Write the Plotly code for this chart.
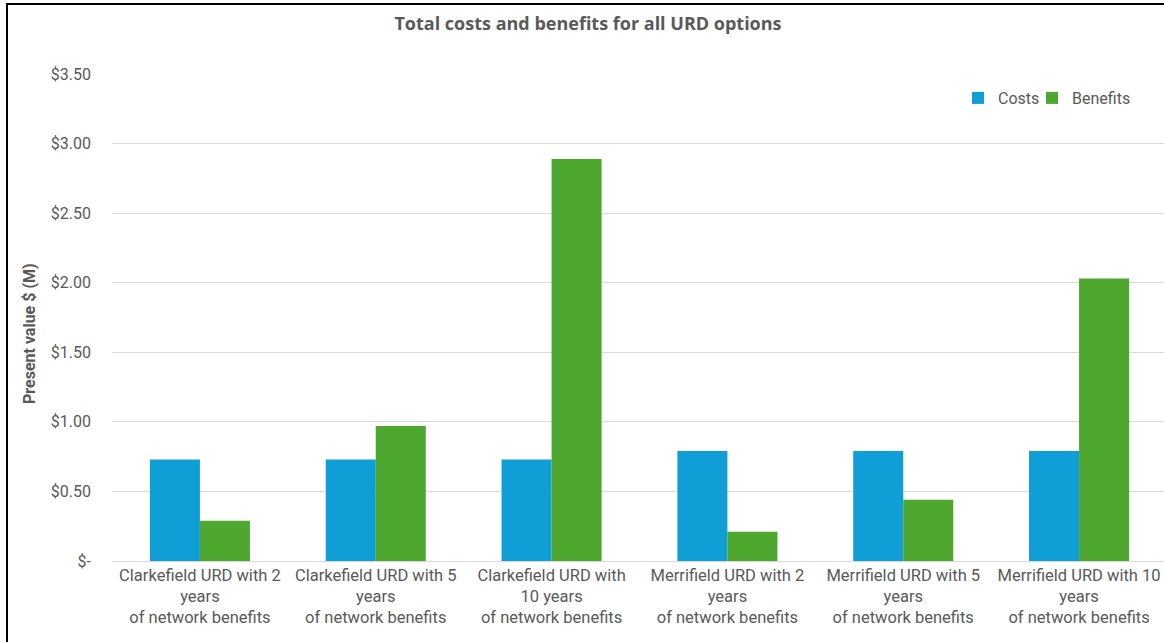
import plotly.graph_objects as go

# Options compared (category labels, three lines each)
options = [
    "Clarkefield URD with 2<br>years<br>of network benefits",
    "Clarkefield URD with 5<br>years<br>of network benefits",
    "Clarkefield URD with<br>10 years<br>of network benefits",
    "Merrifield URD with 2<br>years<br>of network benefits",
    "Merrifield URD with 5<br>years<br>of network benefits",
    "Merrifield URD with 10<br>years<br>of network benefits",
]

# Present values in $M
costs = [0.73, 0.73, 0.73, 0.79, 0.79, 0.79]
benefits = [0.29, 0.97, 2.89, 0.21, 0.44, 2.03]

# Y-axis ticks
y_tickvals = [0, 0.5, 1.0, 1.5, 2.0, 2.5, 3.0, 3.5]
y_ticktext = ["$-", "$0.50", "$1.00", "$1.50", "$2.00", "$2.50", "$3.00", "$3.50"]

W, H = 1164, 642
L, T, B = 112, 74, 81
plot_w = W - L
plot_h = H - T - B

FONT = "Roboto"
GREY = "#595959"

fig = go.Figure()
fig.add_trace(go.Bar(name="Costs", x=options, y=costs, marker_color="#0F9ED5",
                     marker_line_width=0, legend="legend"))
fig.add_trace(go.Bar(name="Benefits", x=options, y=benefits, marker_color="#4EA72E",
                     marker_line_width=0, legend="legend2"))


def px_x(px):
    return (px - L) / plot_w


def px_y(py):
    return (H - B - py) / plot_h


legend_style = dict(orientation="h", xanchor="left", y=px_y(98), yanchor="middle",
                    font=dict(family=FONT, size=16, color=GREY),
                    itemwidth=30, bgcolor="rgba(0,0,0,0)")

fig.update_layout(
    width=W, height=H,
    margin=dict(l=L, r=0, t=T, b=B, pad=0),
    paper_bgcolor="white", plot_bgcolor="white",
    barmode="group", bargap=0.431, bargroupgap=0,
    font=dict(family=FONT, size=16, color=GREY),
    title=dict(text="<b>Total costs and benefits for all URD options</b>",
               x=px_x(588), xref="paper", xanchor="center",
               y=1 - 24 / H, yanchor="middle",
               font=dict(family="Open Sans", size=18, color=GREY)),
    legend=dict(legend_style, x=px_x(958)),
    legend2=dict(legend_style, x=px_x(1032)),
    xaxis=dict(range=[-0.5, 5.483], showgrid=False, showline=False,
               ticks="", tickangle=0, ticklabelstandoff=2,
               tickfont=dict(size=16.5, color=GREY),
               fixedrange=True),
    yaxis=dict(range=[0, 3.5], tickvals=y_tickvals, ticktext=y_ticktext,
               showgrid=True, gridcolor="#D9D9D9", gridwidth=1,
               zeroline=True, zerolinecolor="#D9D9D9", zerolinewidth=1,
               ticks="", ticklabelstandoff=20,
               tickfont=dict(size=16, color=GREY),
               fixedrange=True),
    showlegend=True,
)

# Y-axis title
fig.add_annotation(text="<b>Present value $ (M)</b>", textangle=-90,
                   xref="paper", yref="paper", x=px_x(30), y=px_y(334),
                   xanchor="center", yanchor="middle", showarrow=False,
                   font=dict(family=FONT, size=16, color=GREY))

# Outer chart border (top and left edges)
fig.add_shape(type="line", xref="paper", yref="paper",
              x0=px_x(6), x1=px_x(W + 5), y0=px_y(4), y1=px_y(4),
              line=dict(color="black", width=2))
fig.add_shape(type="line", xref="paper", yref="paper",
              x0=px_x(7), x1=px_x(7), y0=px_y(3), y1=px_y(H + 5),
              line=dict(color="black", width=2))

fig.write_html("out.html")
